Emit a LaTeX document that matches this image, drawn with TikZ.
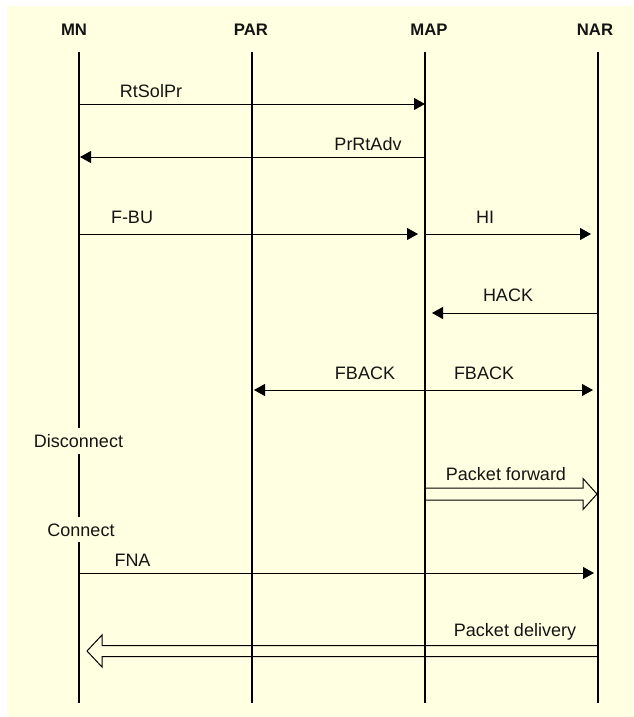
\documentclass[tikz,border=0pt]{standalone}
\usepackage{fontspec}
\setmainfont{Liberation Sans}
\usetikzlibrary{arrows.meta,calc}
\definecolor{bg}{RGB}{255,255,225}
\definecolor{ink}{RGB}{20,20,20}
\begin{document}
\begin{tikzpicture}[x=1pt,y=-1pt,
  hdr/.style={font=\fontsize{16.7}{20}\selectfont\bfseries, anchor=base, inner sep=0pt, text=ink},
  lbl/.style={font=\fontsize{18}{21}\selectfont, anchor=base, inner sep=0pt, text=ink},
  life/.style={line width=2.4pt, draw=black},
  msg/.style={line width=1pt, -{Triangle[length=11pt,width=12pt]}},
  dmsg/.style={line width=1pt, {Triangle[length=11pt,width=12pt]}-{Triangle[length=11pt,width=12pt]}},
  hollow/.style={line width=1pt, line join=miter, draw=black}]
\useasboundingbox (0,0) rectangle (633,717);
\fill[bg] (7,6) rectangle (633,717);

% headers
\node[hdr] (MN)  at (74,36)  {MN};
\node[hdr] (PAR) at (251,36) {PAR};
\node[hdr] (MAP) at (429,36) {MAP};
\node[hdr] (NAR) at (595,36) {NAR};

% lifelines
\coordinate (mnT) at (79,52);   \coordinate (mnB) at (79,703);
\coordinate (parT) at (252,52); \coordinate (parB) at (252,703);
\coordinate (mapT) at (425,52); \coordinate (mapB) at (425,703);
\coordinate (narT) at (598,52); \coordinate (narB) at (598,703);
\coordinate (mnG1) at (79,428); \coordinate (mnG2) at (79,454);
\coordinate (mnG3) at (79,517); \coordinate (mnG4) at (79,542);
\draw[life] (mnT) -- (mnG1);
\draw[life] (mnG2) -- (mnG3);
\draw[life] (mnG4) -- (mnB);
\draw[life] (parT) -- (parB);
\draw[life] (mapT) -- (mapB);
\draw[life] (narT) -- (narB);

% message end points
\coordinate (m1a) at (79,104);  \coordinate (m1b) at (425,104);
\coordinate (m2a) at (425,157); \coordinate (m2b) at (80,157);
\coordinate (m3a) at (79,234);  \coordinate (m3b) at (418,234);
\coordinate (m4a) at (425,234); \coordinate (m4b) at (591,234);
\coordinate (m5a) at (598,313); \coordinate (m5b) at (432,313);
\coordinate (m6a) at (254,390); \coordinate (m6b) at (593,390);
\coordinate (m7a) at (79,573);  \coordinate (m7b) at (594,573);

\draw[msg] (m1a) -- (m1b);
\node[lbl] (tRt) at (151,97) {RtSolPr};
\draw[msg] (m2a) -- (m2b);
\node[lbl] (tPr) at (368,150) {PrRtAdv};
\draw[msg] (m3a) -- (m3b);
\node[lbl] (tFBU) at (132,223) {F-BU};
\draw[msg] (m4a) -- (m4b);
\node[lbl] (tHI) at (485,223) {HI};
\draw[msg] (m5a) -- (m5b);
\node[lbl] (tHACK) at (508,301) {HACK};
\draw[dmsg] (m6a) -- (m6b);
\node[lbl] (tFB1) at (365,379) {FBACK};
\node[lbl] (tFB2) at (484,379) {FBACK};

\node[lbl] (tDis) at (78.5,447) {Disconnect};
\node[lbl] (tCon) at (81,536) {Connect};

% packet forward (hollow arrow)
\draw[hollow] (425,488) -- (583,488) -- (583,478.5) -- (597,494) -- (583,509.5) -- (583,500) -- (425,500) -- cycle;
\node[lbl] (tPF) at (506,480) {Packet forward};

\draw[msg] (m7a) -- (m7b);
\node[lbl] (tFNA) at (132.5,566) {FNA};

% packet delivery (hollow arrow)
\draw[hollow] (597,645.5) -- (102,645.5) -- (102,635) -- (87,651) -- (102,667) -- (102,656.5) -- (597,656.5);
\node[lbl] (tPD) at (515,636) {Packet delivery};
\end{tikzpicture}
\end{document}
